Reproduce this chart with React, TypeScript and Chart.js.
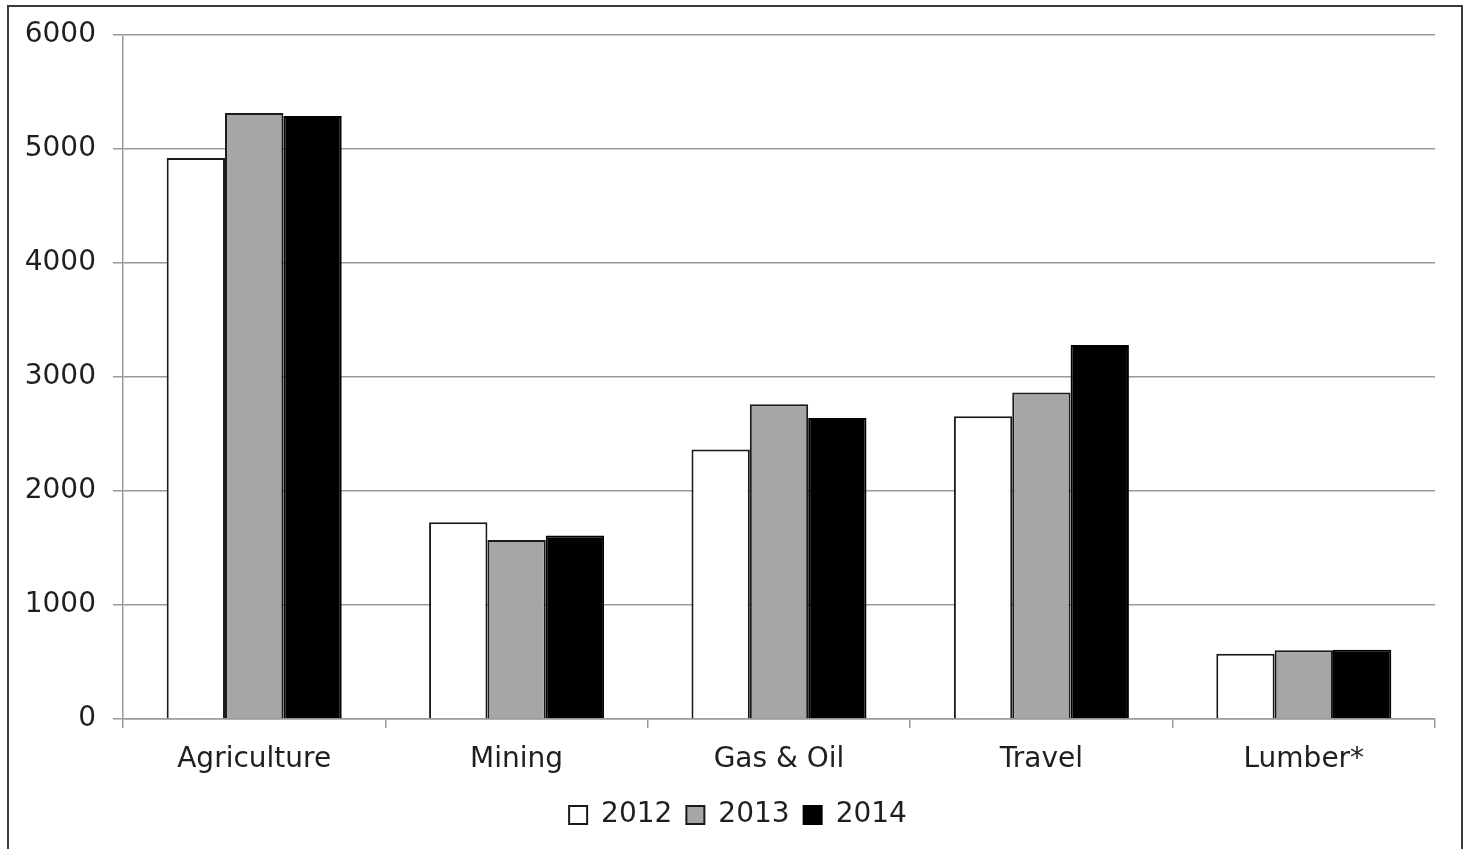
import React, { useEffect, useRef } from "react";
import { Chart, registerables } from "chart.js";

Chart.register(...registerables);

const categories = ["Agriculture", "Mining", "Gas & Oil", "Travel", "Lumber*"];
const seriesNames = ["2012", "2013", "2014"];
const values2012 = [4920, 1725, 2365, 2655, 572];
const values2013 = [5315, 1570, 2760, 2865, 603];
const values2014 = [5290, 1610, 2640, 3280, 608];
const yTicks = [0, 1000, 2000, 3000, 4000, 5000, 6000];

const FONT = "'DejaVu Sans', Verdana, sans-serif";
const TEXT = "#1f1f1f";
const GRID = "#9a9a9a";

const legendShift = {
  id: "legendShift",
  afterLayout(chart: any) {
    const l = chart.legend;
    if (l) {
      l.left += 16;
      l.right += 16;
    }
  },
};

export default function App() {
  const ref = useRef<HTMLCanvasElement | null>(null);

  useEffect(() => {
    if (!ref.current) return;
    const chart = new Chart(ref.current, {
      type: "bar",
      plugins: [legendShift],
      data: {
        labels: categories,
        datasets: [
          { label: seriesNames[0], data: values2012, backgroundColor: "#ffffff", borderColor: "#1a1a1a", borderWidth: 2 },
          { label: seriesNames[1], data: values2013, backgroundColor: "#a6a6a6", borderColor: "#1a1a1a", borderWidth: 2 },
          { label: seriesNames[2], data: values2014, backgroundColor: "#000000", borderColor: "#000000", borderWidth: 2 },
        ],
      },
      options: {
        animation: false,
        responsive: true,
        maintainAspectRatio: false,
        datasets: { bar: { categoryPercentage: 0.667, barPercentage: 1.0 } },
        layout: { padding: { left: 0, right: 26, top: 28, bottom: 34 } },
        plugins: {
          tooltip: { enabled: false },
          legend: {
            position: "bottom",
            labels: {
              boxWidth: 18,
              boxHeight: 18,
              padding: 14,
              color: TEXT,
              font: { family: FONT, size: 28 },
            },
          },
        },
        scales: {
          x: {
            grid: { drawOnChartArea: false, drawTicks: true, tickLength: 9, color: GRID, lineWidth: 1.5, offset: true },
            border: { color: GRID, width: 1.5 },
            ticks: { color: TEXT, font: { family: FONT, size: 28 }, padding: 15 },
            afterFit: (s: any) => { s.height = 68; },
          },
          y: {
            min: 0,
            max: 6000,
            afterBuildTicks: (s: any) => { s.ticks = yTicks.map((v) => ({ value: v })); },
            grid: { color: GRID, lineWidth: 1.5, tickLength: 10, drawTicks: true },
            border: { color: GRID, width: 1.5 },
            ticks: {
              color: TEXT,
              font: { family: FONT, size: 28 },
              padding: 17,
              callback: (v: any) => String(v),
            },
            afterFit: (s: any) => {
              s.width = 114;
              s.paddingTop = 10;
              s.paddingBottom = 10;
            },
          },
        },
      },
    });
    return () => chart.destroy();
  }, []);

  return (
    <div style={{ position: "fixed", inset: 0, overflow: "hidden", background: "#fff" }}>
      <div
        style={{
          position: "absolute",
          left: 7,
          top: 5,
          width: 1456,
          height: 870,
          border: "2px solid #3a3a3a",
          boxSizing: "border-box",
          background: "#fff",
        }}
      >
        <div style={{ position: "relative", width: 1452, height: 866 }}>
          <canvas ref={ref} />
        </div>
      </div>
    </div>
  );
}
